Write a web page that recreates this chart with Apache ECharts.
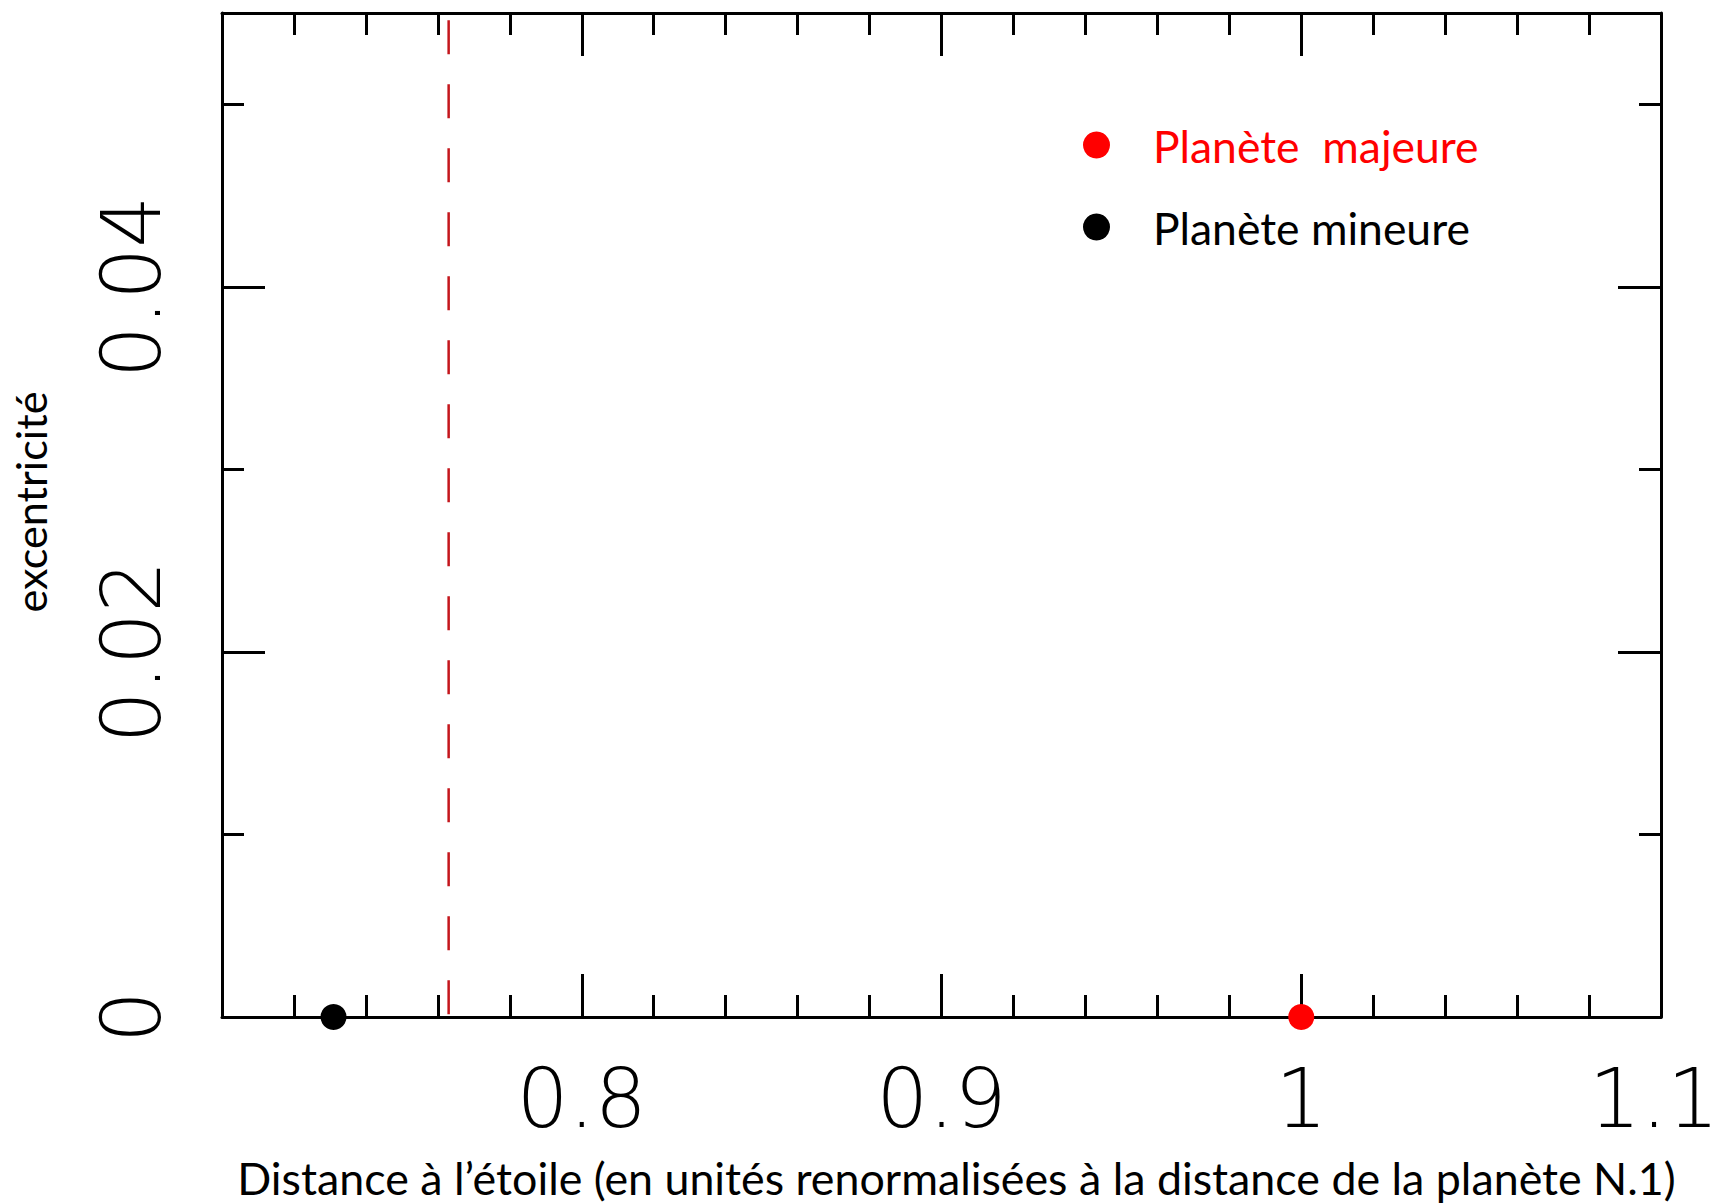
<!DOCTYPE html>
<html>
<head>
<meta charset="utf-8">
<title>Excentricité et distance à l'étoile</title>
<script src="https://cdn.jsdelivr.net/npm/echarts@6/dist/echarts.min.js"></script>
<style>
  html, body { margin: 0; padding: 0; background: #fff; }
  #chart { width: 1719px; height: 1203px; }
</style>
</head>
<body>
<div id="chart"></div>
<script>
// Axis ranges
const xRange = [0.7, 1.1];
const yRange = [0, 0.055];

// Tick positions (major ticks carry the labels)
const xMajorTicks = [0.8, 0.9, 1.0, 1.1];
const xMinorTicks = [0.72, 0.74, 0.76, 0.78, 0.82, 0.84, 0.86, 0.88, 0.92, 0.94, 0.96, 0.98, 1.02, 1.04, 1.06, 1.08];
const yMajorTicks = [0, 0.02, 0.04];
const yMinorTicks = [0.01, 0.03, 0.05];

// Planets: [distance, eccentricity]
const majorPlanet = [[1.0, 0]];
const minorPlanet = [[0.731, 0]];

// Vertical dashed limit: distance and its vertical span
const limitDistance = 0.763;
const limitSpan = [0.0546, 0];

// Texts
const xTitle = 'Distance à l\u2019étoile (en unités renormalisées à la distance de la planète N.1)';
const yTitle = 'excentricité';
const majorName = 'Planète  majeure';
const minorName = 'Planète mineure';

// Fit a font size so that a text reaches a given width
function fitSize(text, family, width) {
  const ctx = document.createElement('canvas').getContext('2d');
  ctx.font = '100px ' + family;
  return 100 * width / ctx.measureText(text).width;
}
const textFamily = 'Lato';
const xTitleSize = fitSize(xTitle, textFamily, 1439);
const yTitleSize = fitSize(yTitle, textFamily, 221);
const legendSize = fitSize(minorName, textFamily, 317);

const tickFont = { fontFamily: 'DejaVu Sans', fontWeight: 200, fontSize: 82, color: '#000', lineHeight: 82 };
const frameLine = { show: true, onZero: false, lineStyle: { color: '#000', width: 3 } };
const noLine = { show: false, onZero: false };
const majorLen = 43, minorLen = 22;

function xAxisOf(position, ticks, len, withLine, withLabels) {
  const ax = {
    type: 'value', position: position, min: xRange[0], max: xRange[1],
    splitLine: { show: false },
    axisLine: withLine ? frameLine : noLine,
    axisTick: { show: true, inside: true, length: len, customValues: ticks, lineStyle: { color: '#000', width: 3 } },
    axisLabel: { show: false }
  };
  if (withLabels) {
    ax.axisLabel = Object.assign({
      show: true,
      customValues: xMajorTicks,
      margin: 40,
      // the label at the right edge is nudged inward to stay on the page
      formatter: v => (v === xRange[1] ? '{edge|' + v + '}' : String(v)),
      rich: { edge: Object.assign({ padding: [0, 14, 0, 0] }, tickFont) }
    }, tickFont);
    ax.name = xTitle;
    ax.nameLocation = 'middle';
    ax.nameGap = 138;
    ax.nameTextStyle = { fontFamily: textFamily, fontSize: xTitleSize, color: '#000', padding: [0, 0, 0, 30] };
  }
  return ax;
}

function yAxisOf(position, ticks, len, withLine, withLabels) {
  const ax = {
    type: 'value', position: position, min: yRange[0], max: yRange[1],
    splitLine: { show: false },
    axisLine: withLine ? frameLine : noLine,
    axisTick: { show: true, inside: true, length: len, customValues: ticks, lineStyle: { color: '#000', width: 3 } },
    axisLabel: { show: false }
  };
  if (withLabels) {
    ax.axisLabel = Object.assign({ show: true, customValues: yMajorTicks, margin: 50, rotate: 90 }, tickFont);
    ax.name = yTitle;
    ax.nameLocation = 'middle';
    ax.nameGap = 171;
    ax.nameTextStyle = { fontFamily: textFamily, fontSize: yTitleSize, color: '#000', padding: [0, 0, 0, 26] };
  }
  return ax;
}

const chart = echarts.init(document.getElementById('chart'), null, { renderer: 'svg' });

chart.setOption({
  backgroundColor: '#fff',
  animation: false,
  grid: { left: 222, right: 58, top: 13, bottom: 186, outerBoundsMode: 'none', containLabel: false },
  xAxis: [
    xAxisOf('bottom', xMajorTicks, majorLen, true, true),
    xAxisOf('bottom', xMinorTicks, minorLen, false, false),
    xAxisOf('top', xMajorTicks, majorLen, true, false),
    xAxisOf('top', xMinorTicks, minorLen, false, false)
  ],
  yAxis: [
    yAxisOf('left', yMajorTicks, majorLen, true, true),
    yAxisOf('left', yMinorTicks, minorLen, false, false),
    yAxisOf('right', yMajorTicks, majorLen, true, false),
    yAxisOf('right', yMinorTicks, minorLen, false, false)
  ],
  legend: {
    orient: 'vertical',
    left: 1078,
    top: 118,
    itemGap: 38,
    itemWidth: 27,
    itemHeight: 27,
    icon: 'circle',
    selectedMode: false,
    textStyle: { fontFamily: textFamily, fontSize: legendSize, lineHeight: 40, padding: [0, 0, 0, 38] },
    data: [
      { name: majorName, textStyle: { color: '#ff0000' } },
      { name: minorName, textStyle: { color: '#000000' } }
    ]
  },
  series: [
    {
      name: 'limite',
      type: 'line',
      xAxisIndex: 0, yAxisIndex: 0,
      data: limitSpan.map(v => [limitDistance, v]),
      symbol: 'none',
      lineStyle: { color: '#c4161c', width: 2.5, type: [34, 30] },
      silent: true,
      z: 1
    },
    {
      name: majorName,
      type: 'scatter',
      xAxisIndex: 0, yAxisIndex: 0,
      data: majorPlanet,
      symbol: 'circle',
      symbolSize: 26,
      clip: false,
      itemStyle: { color: '#ff0000', opacity: 1 },
      z: 5
    },
    {
      name: minorName,
      type: 'scatter',
      xAxisIndex: 0, yAxisIndex: 0,
      data: minorPlanet,
      symbol: 'circle',
      symbolSize: 26,
      clip: false,
      itemStyle: { color: '#000000', opacity: 1 },
      z: 5
    }
  ]
});
</script>
</body>
</html>
